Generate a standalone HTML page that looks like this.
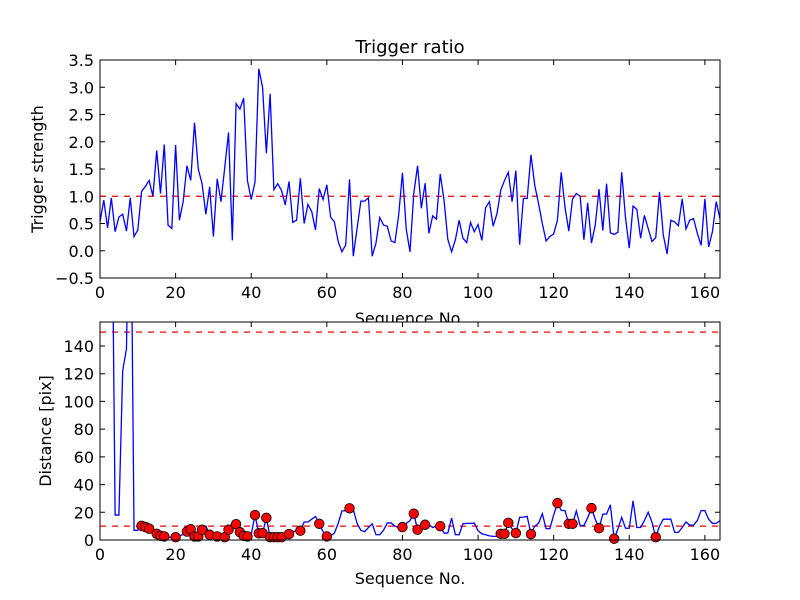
<!DOCTYPE html>
<html><head><meta charset="utf-8"><style>
body{margin:0;background:#fff;}
svg{display:block;font-family:"DejaVu Sans","Liberation Sans",sans-serif;}
</style></head><body>
<svg id="fig" width="800" height="600" viewBox="0 0 800 600">
<rect width="800" height="600" fill="#fff"/>
<defs>
<clipPath id="c1"><rect x="100" y="60" width="620" height="218"/></clipPath>
<clipPath id="c2"><rect x="100" y="322" width="620" height="218"/></clipPath>
</defs>
<g id="top"></g>
<g id="bot"></g>
</svg>
<script>
const trigger = [0.53,0.93,0.42,0.97,0.35,0.62,0.67,0.36,0.97,0.26,
0.38,1.09,1.18,1.29,1.0,1.84,1.05,1.95,0.47,0.41,
1.94,0.56,0.9,1.56,1.29,2.35,1.5,1.23,0.67,1.17,
0.26,1.32,0.9,1.53,2.17,0.19,2.7,2.6,2.8,1.29,
0.94,1.26,3.34,3.0,1.79,2.88,1.12,1.23,1.11,0.84,
1.27,0.52,0.56,1.33,0.5,0.85,0.72,0.38,1.14,0.94,
1.21,0.62,0.53,0.17,-0.02,0.11,1.31,-0.1,0.41,0.91,
0.91,0.97,-0.1,0.14,0.61,0.47,0.45,0.18,0.15,0.65,
1.43,0.4,
-0.02,1.05,1.56,0.78,1.24,0.32,0.64,0.58,1.41,0.93,0.21,-0.02,0.2,0.56,0.23,0.15,0.52,0.35,0.48,0.19,0.79,0.9,0.45,0.68,1.11,1.29,1.44,0.9,1.47,0.11,0.96,0.96,1.76,1.2,0.87,0.5,0.18,0.26,0.31,0.56,1.44,0.8,0.36,0.95,1.05,1.0,0.2,0.88,0.14,0.47,1.13,0.37,1.23,0.33,0.3,0.34,1.44,0.61,0.05,0.82,0.76,0.23,0.65,0.41,0.17,0.24,1.08,0.29,-0.06,0.56,0.53,0.46,0.95,0.4,0.56,0.59,0.32,0.1,0.95,0.07,0.35,0.9,0.59,0.17,0.97];
const distance = [300,300,300,300,18,18,122,138,300,7,
7,10.2,9.3,8.2,6,4.5,3,2.6,2,2,
2,3,4,6.1,7.8,2.6,2.6,7.4,10,3.8,
3,2.6,2.5,2,7.4,13,11.4,5.6,3,2.6,
4,18,4.8,5,16,2,2,2,2,2.5,
4.3,6,6.7,6.7,13,13,15,17,11.7,6,
2.6,3,5,12,21,21,22.9,22,12,7,
6,9,11.7,3.8,3.8,7,12.3,12.3,10,9,
9.3,12,14,19,7.4,9,11,11,9,10,
10,5,5,15.8,3.8,3.8,11.7,12,12,12.2,
6.7,4.5,3.8,3,2.6,2.6,4.5,4.5,12.4,8,
5,16.3,16.5,17,4.3,10,12,19,8.2,8.2,
18,26.6,21.4,21.2,11.7,11.7,21,10.4,10.4,16,
23,15,8.5,18.6,18.8,25.4,0.9,8,16.3,8.5,
8.5,28.3,9,9,14,20,13,2,10,15,
15,15,5.5,5.5,9,13,10.7,10.7,14,21.2,
21.2,15,12,12,14];
const dotIndex = [11,12,13,15,16,17,20,23,24,25,26,27,29,31,33,34,36,37,38,39,41,42,43,44,45,46,47,48,50,53,58,60,66,80,83,84,86,90,106,107,108,110,114,121,124,125,130,132,136,147];
const xTicks = [0,20,40,60,80,100,120,140,160];
const topYTicks = [-0.5,0.0,0.5,1.0,1.5,2.0,2.5,3.0,3.5];
const botYTicks = [0,20,40,60,80,100,120,140];
const topThreshold = [1.0];
const botThresholds = [10,150];

const NS='http://www.w3.org/2000/svg';
function mk(parent,tag,attrs){const e=document.createElementNS(NS,tag);for(const k in attrs)e.setAttribute(k,attrs[k]);parent.appendChild(e);return e;}
const X0=100,X1=720;
const sx=v=>X0+(v-0)/(164-0)*(X1-X0);
const syT=v=>278-(v+0.5)/4.0*218;
const syB=v=>540-v/157.3*218;

function axes(g,y0,y1,ys,yt,fmt){
  for(const t of xTicks){
    const x=sx(t);
    const tk=mk(g,'path',{d:`M${x} ${y1}v-5M${x} ${y0}v5`,stroke:'#000','stroke-width':1});
    
    
    const lb=mk(g,'text',{x:x,y:y1+20,'text-anchor':'middle','font-size':16});
    lb.textContent=t;
    
    
  }
  for(const t of yt){
    const y=ys(t);
    const tk=mk(g,'path',{d:`M${X0} ${y}h5M${X1} ${y}h-5`,stroke:'#000','stroke-width':1});
    
    
    const lb=mk(g,'text',{x:X0-6,y:y+6,'text-anchor':'end','font-size':16});
    lb.textContent=fmt(t);
    
    
  }
}
function frame(g,y0,y1){
  const r=mk(g,'rect',{x:X0,y:y0,width:X1-X0,height:y1-y0,fill:'none',stroke:'#000','stroke-width':1});
  
  
}
const gt=document.getElementById('top');
const tt=mk(gt,'text',{x:410,y:53,'text-anchor':'middle','font-size':18});
tt.textContent='Trigger ratio';


axes(gt,60,278,syT,topYTicks,v=>v.toFixed(1).replace('-','\u2212'));
const ctop=mk(gt,'g',{'clip-path':'url(#c1)'});
for(const v of topThreshold){
  const l=mk(ctop,'line',{x1:X0,x2:X1,y1:syT(v),y2:syT(v),stroke:'#f00','stroke-width':1.3,'stroke-dasharray':'6,6'});
  
  
}
const tl=mk(ctop,'polyline',{points:trigger.map((v,i)=>sx(i)+','+syT(v)).join(' '),fill:'none',stroke:'#00f','stroke-width':1.3});


frame(gt,60,278);
const yl1=mk(gt,'text',{transform:'translate(43,169) rotate(-90)','text-anchor':'middle','font-size':16});
yl1.textContent='Trigger strength';


const xl1=mk(gt,'text',{x:410,y:324,'text-anchor':'middle','font-size':16});
xl1.textContent='Sequence No.';


const gb=document.getElementById('bot');
mk(gb,'rect',{x:X0,y:322,width:X1-X0,height:218,fill:'#fff'});
axes(gb,322,540,syB,botYTicks,v=>String(v));
const cb=mk(gb,'g',{'clip-path':'url(#c2)'});
for(const v of botThresholds){
  const l=mk(cb,'line',{x1:X0,x2:X1,y1:syB(v),y2:syB(v),stroke:'#f00','stroke-width':1.3,'stroke-dasharray':'6,6'});
  
  
}
const dl=mk(cb,'polyline',{points:distance.map((v,i)=>sx(i)+','+syB(v)).join(' '),fill:'none',stroke:'#00f','stroke-width':1.3});


const cbd=mk(gb,'g',{});
for(const i of dotIndex){
  const c=mk(cbd,'circle',{cx:sx(i),cy:syB(distance[i]),r:4.8,fill:'#f00',stroke:'#000','stroke-width':0.8});
  
  
}
frame(gb,322,540);
const yl2=mk(gb,'text',{transform:'translate(51,431) rotate(-90)','text-anchor':'middle','font-size':16});
yl2.textContent='Distance [pix]';


const xl2=mk(gb,'text',{x:410,y:584,'text-anchor':'middle','font-size':16});
xl2.textContent='Sequence No.';


</script>
</body></html>
